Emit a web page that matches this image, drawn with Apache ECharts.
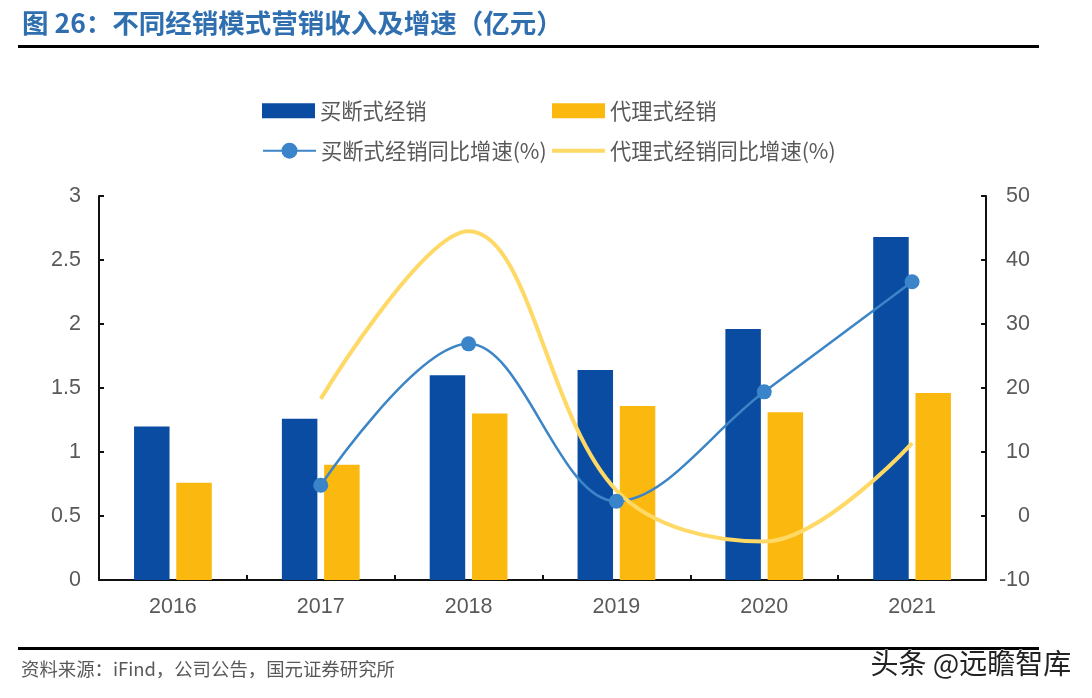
<!DOCTYPE html>
<html><head><meta charset="utf-8">
<style>html,body{margin:0;padding:0;background:#fff}#c{width:1092px;height:698px}</style>
<script src="https://cdn.jsdelivr.net/npm/echarts@6/dist/echarts.min.js"></script>
</head><body><div id="c"></div>
<script>
const categories=['2016','2017','2018','2019','2020','2021'];
const buyout=[1.2,1.26,1.6,1.64,1.96,2.68];
const agency=[0.76,0.9,1.3,1.36,1.31,1.46];
const buyoutGrowth=[null,4.8,26.9,2.3,19.4,36.6];
const agencyGrowth=[null,18.3,44.5,4,-4,11.4];
const leftTicks=['0','0.5','1','1.5','2','2.5','3'];
const names=['买断式经销','代理式经销','买断式经销同比增速(%)','代理式经销同比增速(%)'];
const cjk='"Noto Sans CJK SC","Liberation Sans",sans-serif';
const latin='"Liberation Sans",Arial,sans-serif';
const txt='#595959';
const axisCol='#111';
const chart=echarts.init(document.getElementById('c'),null,{renderer:'canvas'});
function leg(name,left,top,w,h,icon){
  const o={data:[name],left,top,itemWidth:w,itemHeight:h,itemGap:6,padding:0,
    textStyle:{fontFamily:cjk,fontSize:21.3,color:txt},selectedMode:false};
  if(icon)o.icon=icon;
  return o;
}
chart.setOption({
  animation:false,
  backgroundColor:'#fff',
  grid:{left:99,right:106,top:196,bottom:118},
  legend:[
    leg(names[0],262,100,53,15,'rect'),
    leg(names[1],552,100,53,15,'rect'),
    leg(names[2],262,140,53,20),
    leg(names[3],552,140,53,4,'rect')
  ],
  xAxis:{type:'category',data:categories,
    axisLine:{lineStyle:{color:axisCol,width:2}},
    axisTick:{show:true,inside:true,length:5,alignWithLabel:false,lineStyle:{color:axisCol,width:2}},
    axisLabel:{fontFamily:latin,fontSize:21.5,color:txt,margin:16}},
  yAxis:[
    {type:'value',min:0,max:3,interval:0.5,splitLine:{show:false},
     axisLine:{show:true,lineStyle:{color:axisCol,width:2}},
     axisTick:{show:true,inside:true,length:5,lineStyle:{color:axisCol,width:2}},
     axisLabel:{fontFamily:latin,fontSize:21.5,color:txt,margin:18,padding:[2,0,0,0],
       formatter:(v)=>leftTicks[Math.round(v/0.5)]}},
    {type:'value',min:-10,max:50,interval:10,splitLine:{show:false},position:'right',
     axisLine:{show:true,lineStyle:{color:axisCol,width:2}},
     axisTick:{show:true,inside:true,length:5,lineStyle:{color:axisCol,width:2}},
     axisLabel:{fontFamily:latin,fontSize:21.5,color:txt,margin:44,align:'right',padding:[2,0,0,0]}}
  ],
  series:[
    {name:names[0],type:'bar',data:buyout,barWidth:35.5,barGap:'19%',itemStyle:{color:'#0b4ca3'}},
    {name:names[1],type:'bar',data:agency,barWidth:35.5,itemStyle:{color:'#fbb80f'}},
    {name:names[2],type:'line',yAxisIndex:1,data:buyoutGrowth,smooth:0.36,symbol:'circle',symbolSize:15,
     lineStyle:{color:'#3c85c6',width:2.5},itemStyle:{color:'#3a84c9'}},
    {name:names[3],type:'line',yAxisIndex:1,data:agencyGrowth,smooth:0.36,showSymbol:false,symbol:'none',
     lineStyle:{color:'#ffd966',width:4},itemStyle:{color:'#ffd966'}}
  ],
  graphic:[
    {type:'text',left:22,top:10,style:{text:'图 26：不同经销模式营销收入及增速（亿元）',fontFamily:cjk,fontSize:26.5,fontWeight:'bold',fill:'#2f6fb0'}},
    {type:'rect',shape:{x:18,y:45,width:1021,height:3},style:{fill:'#000'}},
    {type:'rect',shape:{x:18,y:647,width:1021,height:3},style:{fill:'#000'}},
    {type:'text',left:21,top:660,style:{text:'资料来源：iFind，公司公告，国元证券研究所',fontFamily:cjk,fontSize:18.4,fill:txt}},
    {type:'text',left:870,top:649,style:{text:'头条 @远瞻智库',fontFamily:cjk,fontSize:28,fill:'#222',stroke:'#fff',lineWidth:1}}
  ]
});
</script></body></html>
